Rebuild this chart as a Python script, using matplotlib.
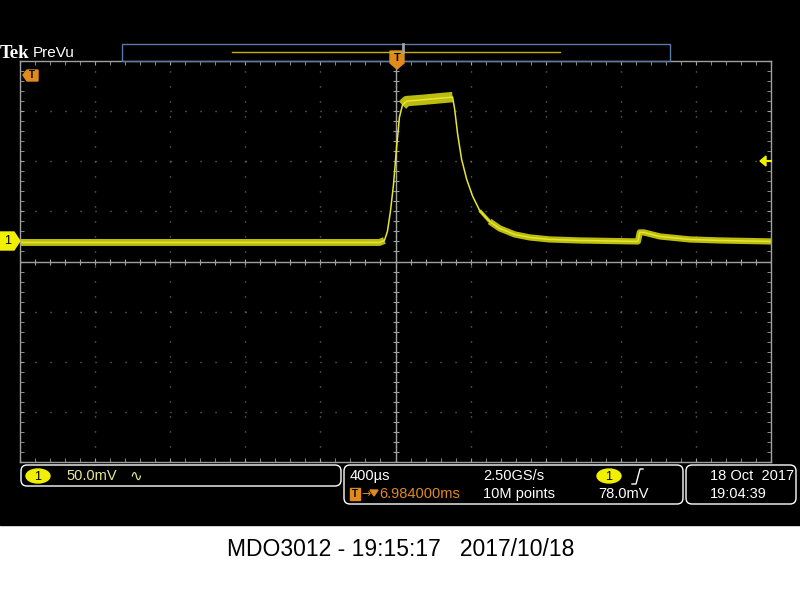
import numpy as np
import matplotlib
matplotlib.use("Agg")
import matplotlib.pyplot as plt
from matplotlib.patches import Rectangle, FancyBboxPatch, Polygon, Ellipse
from matplotlib.ticker import MultipleLocator

# trace: time in us, voltage in mV (400us/div, 50mV/div)
time_us = [-2000, -85, -59, -43, -27, -11, 5, 21, 37, 59, 128, 304, 315, 331,
           352, 379, 411, 448, 501, 555, 635, 715, 821, 981, 1291, 1301, 1323,
           1408, 1568, 1728, 2000]
volt_mv = [19, 19, 21, 30, 50, 76, 112, 144, 156, 160, 161, 164, 152, 127,
           102, 82, 65, 51, 40, 33, 27, 24, 22, 21, 20, 29, 29,
           25, 22, 21, 20]

ch1_scale = "50.0mV"
timebase = "400µs"
sample_rate = "2.50GS/s"
record_len = "10M points"
trig_level = "78.0mV"
trig_delay = "6.984000ms"
scope_date = "18 Oct  2017"
scope_time = "19:04:39"
caption = "MDO3012 - 19:15:17   2017/10/18"

plt.rcParams['font.family'] = ['Liberation Sans', 'DejaVu Sans']

fig = plt.figure(figsize=(8, 6), dpi=100, facecolor='white')

# background (pixel coords)
bg = fig.add_axes([0, 0, 1, 1])
bg.set_xlim(0, 800)
bg.set_ylim(600, 0)
bg.axis('off')
bg.add_patch(Rectangle((0, 0), 800, 525, color='black'))
bg.text(401, 549, caption, ha='center', va='center', fontsize=16.5, color='black')

# graticule
ax = fig.add_axes([20 / 800, 138 / 600, 751 / 800, 401 / 600])
ax.set_facecolor('black')
ax.set_xlim(-2000, 2000)
ax.set_ylim(-200, 200)
grey = '#a0a0a0'
for s in ax.spines.values():
    s.set_color(grey)
    s.set_linewidth(1)
ax.xaxis.set_major_locator(MultipleLocator(400))
ax.yaxis.set_major_locator(MultipleLocator(50))
ax.xaxis.set_minor_locator(MultipleLocator(80))
ax.yaxis.set_minor_locator(MultipleLocator(10))
ax.tick_params(which='both', direction='in', length=3, color=grey,
               top=True, right=True, labelbottom=False, labelleft=False)
ax.grid(which='major', color='#7a7a7a', linestyle=(0, (0.8, 10)), linewidth=1)
ax.axhline(0, color=grey, lw=1)
ax.axvline(0, color=grey, lw=1)
ax.plot(np.arange(-2000, 2001, 80), np.zeros(51), ls='none', marker='|',
        ms=5, color=grey, mew=0.8)
ax.plot(np.zeros(41), np.arange(-200, 201, 10), ls='none', marker='_',
        ms=5, color=grey, mew=0.8)

# waveform: noisy band on the flat parts, thin bright core
band = '#bcbc10'
ax.plot(time_us[:3], volt_mv[:3], color=band, lw=5, solid_capstyle='butt')
ax.plot(time_us[8:12], volt_mv[8:12], color=band, lw=7.5, solid_capstyle='butt')
ax.plot(time_us[17:19], volt_mv[17:19], color=band, lw=2.5, solid_capstyle='butt')
ax.plot(time_us[18:], volt_mv[18:], color=band, lw=4.5, solid_capstyle='butt')
ax.plot(time_us, volt_mv, color='#e6e630', lw=1.1)

# overlay UI
ui = fig.add_axes([0, 0, 1, 1])
ui.set_xlim(0, 800)
ui.set_ylim(600, 0)
ui.axis('off')
ui.patch.set_alpha(0)

ui.text(0, 53, "Tek", fontsize=13.5, fontweight='bold', family='Liberation Serif',
        color='white', va='center', ha='left')
ui.text(33, 53, "PreVu", fontsize=11, color='white', va='center', ha='left')
ui.add_patch(Rectangle((122, 44), 548, 17, fill=False, ec='#5a78a8', lw=1))
ui.plot([232, 560], [51.5, 51.5], color='#c8b000', lw=1)
ui.plot([403, 403], [44, 52], color='#a0a0a0', lw=2)

orange = '#e08a1e'
ui.add_patch(Polygon([(390, 51), (404, 51), (404, 63), (397, 69), (390, 63)],
                     closed=True, fc=orange, ec=orange))
ui.text(397, 58, "T", fontsize=8, fontweight='bold', color='black',
        ha='center', va='center')
ui.add_patch(Polygon([(23, 75), (27, 70), (38, 70), (38, 81), (27, 81)],
                     closed=True, fc=orange, ec=orange))
ui.text(32, 75.5, "T", fontsize=7, fontweight='bold', color='black',
        ha='center', va='center')

yellow = '#f0f000'
ui.add_patch(Polygon([(0, 232), (14, 232), (20, 241), (14, 250), (0, 250)],
                     closed=True, fc=yellow, ec=yellow))
ui.text(8, 241, "1", fontsize=9, color='black', ha='center', va='center')
ui.add_patch(Polygon([(760, 161), (766, 156), (766, 166)],
                     closed=True, fc=yellow, ec=yellow))
ui.plot([765, 771], [161, 161], color=yellow, lw=1.5)

# bottom readouts
def box(x, y, w, h):
    ui.add_patch(FancyBboxPatch((x, y), w, h, boxstyle="round,pad=0,rounding_size=6",
                                fill=False, ec='white', lw=1))

box(21, 465, 320, 21)
box(344, 465, 339, 39)
box(686, 465, 110, 39)

ui.add_patch(Ellipse((38, 476), 24, 14, fc=yellow, ec=yellow))
ui.text(38, 476.5, "1", fontsize=9, color='black', ha='center', va='center')
ui.text(66, 476, ch1_scale, fontsize=10.5, color='#e8e890', va='center')
ui.text(129, 476, "∿", fontsize=11, color='#e8e890', va='center',
        family=['DejaVu Sans'])

ui.text(350, 476, timebase, fontsize=10.5, color='white', va='center')
ui.text(483, 476, sample_rate, fontsize=10.5, color='white', va='center')
ui.add_patch(Ellipse((609, 476), 24, 14, fc=yellow, ec=yellow))
ui.text(609, 476.5, "1", fontsize=9, color='black', ha='center', va='center')
ui.plot([632, 636, 640, 643], [484, 484, 469, 469], color='white', lw=1)

ui.add_patch(Rectangle((350, 488), 10, 12, fc=orange, ec=orange))
ui.text(355, 494, "T", fontsize=7, fontweight='bold', color='black',
        ha='center', va='center')
ui.text(361, 494, "→", fontsize=8, color=orange, va='center',
        family=['DejaVu Sans'])
ui.add_patch(Polygon([(370, 490), (378, 490), (374, 496)], closed=True,
                     fc=orange, ec=orange))
ui.text(379, 494, trig_delay, fontsize=10.5, color=orange, va='center')
ui.text(483, 494, record_len, fontsize=10.5, color='white', va='center')
ui.text(598, 494, trig_level, fontsize=10.5, color='white', va='center')

ui.text(710, 476, scope_date, fontsize=10.5, color='white', va='center')
ui.text(710, 494, scope_time, fontsize=10.5, color='white', va='center')

fig.savefig("out.png", dpi=100, facecolor=fig.get_facecolor())
